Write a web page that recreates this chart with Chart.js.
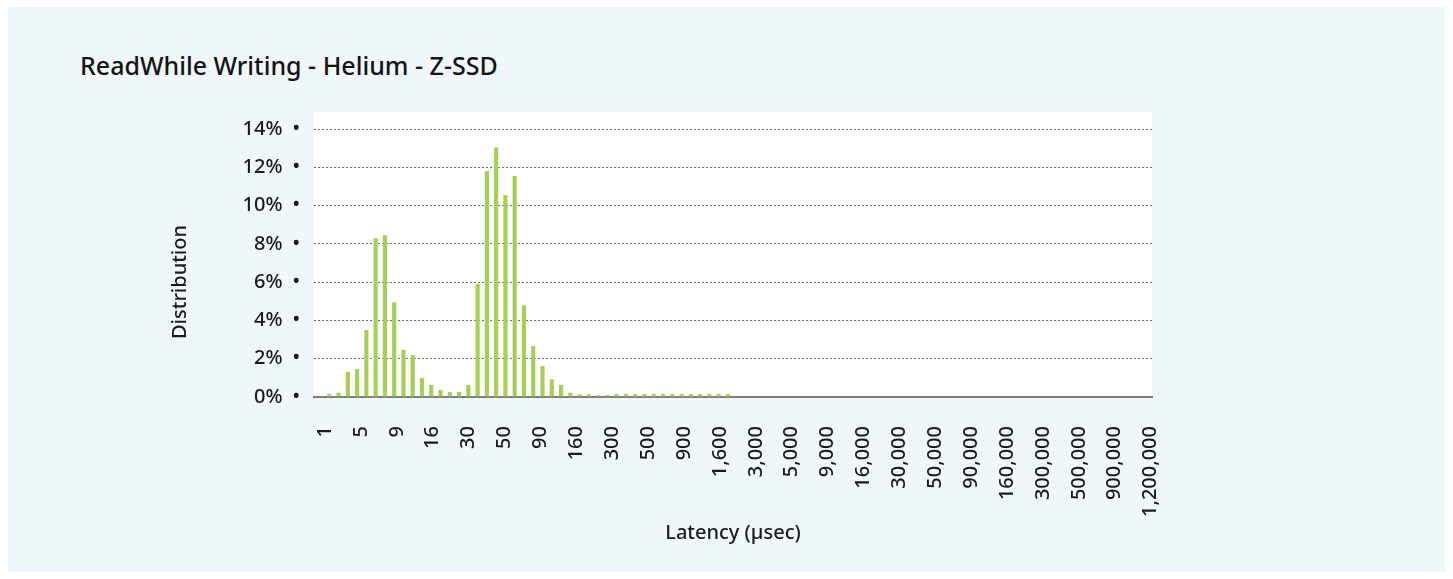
<!DOCTYPE html>
<html>
<head>
  <title>ReadWhile Writing - Helium - Z-SSD</title>
  <script src="https://cdn.jsdelivr.net/npm/chart.js"></script>
  <style>
    body {
      margin: 0;
      background: #ffffff;
      font-family: "Noto Sans", sans-serif;
    }
    #panel {
      position: absolute;
      left: 8px;
      top: 7px;
      width: 1437px;
      height: 565px;
      background: #f0f7fb;
    }
    #title {
      position: absolute;
      left: 80px;
      top: 50px;
      font-size: 25px;
      line-height: 30px;
      font-weight: 500;
      color: #141414;
      white-space: nowrap;
    }
    canvas {
      position: absolute;
      left: 0;
      top: 0;
    }
  </style>
</head>
<body>
  <div id="panel"></div>
  <div id="title">ReadWhile Writing - Helium - Z-SSD</div>
  <canvas id="latencyChart" width="1453" height="579"></canvas>

  <script>
    // latency buckets (usec), one bar each
    const buckets = [
      1, 2, 3, 4, 5, 6, 7, 8, 9, 10, 12, 14, 16, 18, 20, 25, 30, 35, 40, 45,
      50, 60, 70, 80, 90, 100, 120, 140, 160, 180, 200, 250, 300, 350, 400, 450,
      500, 600, 700, 800, 900, 1000, 1200, 1400, 1600, 1800, 2000, 2500, 3000, 3500,
      4000, 4500, 5000, 6000, 7000, 8000, 9000, 10000, 12000, 14000, 16000, 18000,
      20000, 25000, 30000, 35000, 40000, 45000, 50000, 60000, 70000, 80000, 90000,
      100000, 120000, 140000, 160000, 180000, 200000, 250000, 300000, 350000,
      400000, 450000, 500000, 600000, 700000, 800000, 900000, 1000000
    ];

    // share of requests per bucket (%)
    const distribution = [
      0, 0.16, 0.22, 1.31, 1.46, 3.50, 8.29, 8.45, 4.95, 2.47,
      2.19, 0.99, 0.63, 0.37, 0.26, 0.26, 0.63, 5.90, 11.81, 13.03,
      10.55, 11.55, 4.79, 2.66, 1.62, 0.92, 0.63, 0.22, 0.14, 0.14,
      0.10, 0.10, 0.16, 0.16, 0.16, 0.16, 0.16, 0.16, 0.16, 0.16,
      0.16, 0.16, 0.16, 0.16, 0.16, 0, 0, 0, 0, 0,
      0, 0, 0, 0, 0, 0, 0, 0, 0, 0,
      0, 0, 0, 0, 0, 0, 0, 0, 0, 0,
      0, 0, 0, 0, 0, 0, 0, 0, 0, 0,
      0, 0, 0, 0, 0, 0, 0, 0, 0, 0
    ];

    const xTickLabels = [
      '1', '5', '9', '16', '30', '50', '90', '160', '300', '500', '900', '1,600',
      '3,000', '5,000', '9,000', '16,000', '30,000', '50,000', '90,000', '160,000',
      '300,000', '500,000', '900,000', '1,200,000'
    ];

    const yTicks = [0, 2, 4, 6, 8, 10, 12, 14];

    const font = { family: '"Noto Sans", sans-serif', size: 20, weight: '500' };
    const textColor = '#1a1a1a';

    const plotBackground = {
      id: 'plotBackground',
      beforeDraw(chart) {
        const a = chart.chartArea;
        const ctx = chart.ctx;
        ctx.save();
        ctx.fillStyle = '#ffffff';
        ctx.fillRect(a.left, a.top - 17, a.right - a.left, a.bottom - a.top + 17);
        ctx.restore();
      }
    };

    // y axis title sits a bit below the middle of the plot in the original
    const yTitle = {
      id: 'yTitle',
      afterDraw(chart) {
        const a = chart.chartArea;
        const ctx = chart.ctx;
        ctx.save();
        ctx.translate(180, (a.top + a.bottom) / 2 + 19);
        ctx.rotate(-Math.PI / 2);
        ctx.font = '500 20px "Noto Sans", sans-serif';
        ctx.fillStyle = textColor;
        ctx.textAlign = 'center';
        ctx.textBaseline = 'middle';
        ctx.fillText('Distribution', 0, 0);
        ctx.restore();
      }
    };

    const ctx = document.getElementById('latencyChart').getContext('2d');
    const chart = new Chart(ctx, {
      type: 'bar',
      data: {
        datasets: [{
          label: 'Distribution',
          data: distribution.map((v, i) => ({ x: i, y: v })),
          backgroundColor: '#a6cf58',
          borderWidth: 0,
          barPercentage: 0.45,
          categoryPercentage: 1
        }]
      },
      options: {
        responsive: false,
        animation: false,
        layout: {
          padding: { left: 164, right: 301, top: 129, bottom: 30 }
        },
        plugins: {
          legend: { display: false },
          tooltip: {
            callbacks: {
              title: items => buckets[items[0].parsed.x] + ' usec'
            }
          }
        },
        scales: {
          x: {
            type: 'linear',
            offset: false,
            min: -0.65,
            max: buckets.length - 0.25,
            // labels are spread evenly along the axis, not one per bucket
            afterBuildTicks: scale => {
              const first = 0.55, last = buckets.length - 0.4;
              const step = (last - first) / (xTickLabels.length - 1);
              scale.ticks = xTickLabels.map((_, k) => ({ value: first + k * step }));
            },
            afterFit: scale => { scale.height = 152; },
            grid: { display: false, offset: false },
            border: { color: '#7f7f7f', width: 2 },
            ticks: {
              autoSkip: false,
              minRotation: 90,
              maxRotation: 90,
              padding: 21,
              font: font,
              color: textColor,
              callback: (value, index) => xTickLabels[index]
            },
            title: {
              display: true,
              text: 'Latency (µsec)',
              font: font,
              color: textColor
            }
          },
          y: {
            min: 0,
            max: 14,
            afterBuildTicks: scale => {
              scale.ticks = yTicks.map(v => ({ value: v }));
            },
            afterFit: scale => { scale.width = 150; },
            grid: { color: '#707070', lineWidth: 1, drawTicks: false },
            border: { display: false, dash: [2, 2] },
            ticks: {
              padding: 14,
              font: font,
              color: textColor,
              callback: v => v + '%\u2002•'
            }
          }
        }
      },
      plugins: [plotBackground, yTitle]
    });
  </script>
</body>
</html>
